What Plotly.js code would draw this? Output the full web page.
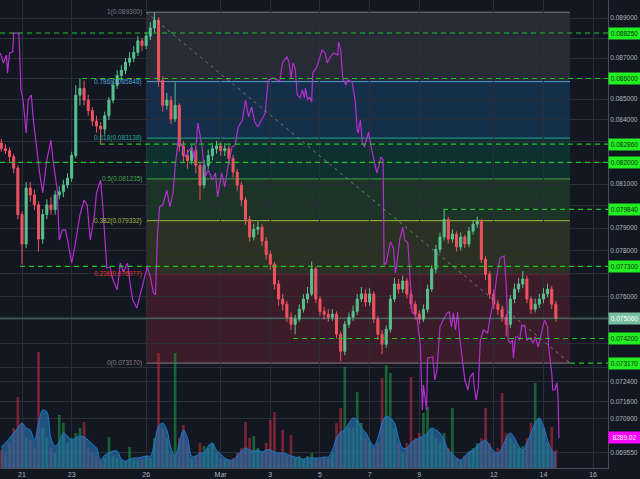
<!DOCTYPE html>
<html><head><meta charset="utf-8">
<script src="https://cdn.plot.ly/plotly-3.0.1.min.js"></script>
<style>html,body{margin:0;padding:0;background:#131722;}#chart{width:640px;height:479px;}</style>
</head><body><div id="chart"></div>
<script>
// ---- candle data (4h, ETH/BTC-like) ----
const candleStartUTC = Date.UTC(2018,1,20,4); // Feb 20 2018 04:00
const candleStepHours = 4;
const open = [
.08291,.08264,.08255,.08227,.08173,.07961,.07829,.08082,.08050,.08005,
.07851,.07961,.08005,.07983,.08050,.08064,.08095,.08127,.08232,.08519,
.08552,.08495,.08445,.08395,.08371,.08357,.08420,.08495,.08567,.08615,
.08640,.08680,.08700,.08729,.08786,.08762,.08810,.08850,.08890,.08590,
.08470,.08495,.08405,.08470,.08277,.08232,.08209,.08255,.08186,.08095,
.08186,.08232,.08264,.08277,.08255,.08264,.08218,.08155,.08095,.08027,
.07939,.07860,.07895,.07904,.07842,.07783,.07739,.07653,.07588,.07566,
.07510,.07480,.07502,.07544,.07588,.07610,.07718,.07588,.07535,.07523,
.07510,.07523,.07438,.07366,.07480,.07510,.07535,.07588,.07610,.07575,
.07610,.07502,.07438,.07396,.07459,.07588,.07653,.07631,.07666,.07610,
.07566,.07523,.07502,.07544,.07631,.07718,.07805,.07860,.07939,.07851,
.07873,.07816,.07860,.07829,.07886,.07917,.07930,.07761,.07696,.07610,
.07566,.07544,.07510,.07480,.07588,.07631,.07653,.07675,.07588,.07544,
.07566,.07588,.07610,.07631,.07566];
const high = [
.08310,.08285,.08270,.08240,.08185,.07975,.08109,.08110,.08075,.08020,
.07985,.08030,.08040,.08070,.08090,.08120,.08150,.08250,.08567,.08600,
.08590,.08520,.08460,.08420,.08390,.08440,.08510,.08590,.08640,.08665,
.08700,.08730,.08760,.08810,.08800,.08830,.08880,.08930,.08905,.08610,
.08530,.08515,.08581,.08480,.08300,.08260,.08280,.08270,.08200,.08210,
.08260,.08290,.08300,.08295,.08290,.08280,.08235,.08170,.08110,.08040,
.07955,.07920,.07930,.07920,.07860,.07800,.07750,.07670,.07610,.07580,
.07530,.07520,.07565,.07610,.07640,.07752,.07730,.07600,.07555,.07545,
.07545,.07535,.07450,.07495,.07530,.07560,.07610,.07640,.07630,.07635,
.07620,.07515,.07455,.07475,.07605,.07680,.07675,.07690,.07680,.07625,
.07580,.07540,.07565,.07650,.07735,.07825,.07880,.07983,.07950,.07895,
.07885,.07880,.07870,.07905,.07935,.07952,.07940,.07775,.07710,.07630,
.07585,.07560,.07525,.07605,.07655,.07680,.07709,.07690,.07600,.07590,
.07610,.07635,.07655,.07645,.07580];
const low = [
.08250,.08240,.08205,.08150,.07940,.07739,.07810,.08020,.07980,.07796,
.07830,.07940,.07960,.07960,.08030,.08040,.08080,.08110,.08220,.08470,
.08470,.08420,.08370,.08340,.08286,.08330,.08400,.08480,.08550,.08590,
.08620,.08660,.08680,.08710,.08735,.08745,.08790,.08830,.08560,.08440,
.08450,.08380,.08390,.08250,.08200,.08170,.08190,.08150,.08027,.08080,
.08170,.08210,.08240,.08230,.08230,.08190,.08130,.08070,.08000,.07915,
.07840,.07845,.07870,.07820,.07760,.07715,.07630,.07560,.07540,.07490,
.07455,.07438,.07490,.07530,.07570,.07600,.07570,.07515,.07500,.07490,
.07495,.07420,.07325,.07350,.07465,.07495,.07520,.07575,.07555,.07560,
.07485,.07415,.07354,.07380,.07445,.07575,.07610,.07615,.07590,.07545,
.07500,.07480,.07490,.07530,.07620,.07700,.07790,.07845,.07830,.07835,
.07795,.07800,.07810,.07815,.07870,.07900,.07745,.07670,.07590,.07545,
.07520,.07490,.07430,.07465,.07570,.07615,.07635,.07570,.07525,.07530,
.07550,.07570,.07595,.07545,.07490];
const close = [
.08264,.08255,.08227,.08173,.07961,.07829,.08082,.08050,.08005,.07851,
.07961,.08005,.07983,.08050,.08064,.08095,.08127,.08232,.08519,.08552,
.08495,.08445,.08395,.08371,.08357,.08420,.08495,.08567,.08615,.08640,
.08680,.08700,.08729,.08786,.08762,.08810,.08850,.08890,.08590,.08470,
.08495,.08405,.08470,.08277,.08232,.08209,.08255,.08186,.08095,.08186,
.08232,.08264,.08277,.08255,.08264,.08218,.08155,.08095,.08027,.07939,
.07860,.07895,.07904,.07842,.07783,.07739,.07653,.07588,.07566,.07510,
.07480,.07502,.07544,.07588,.07610,.07718,.07588,.07535,.07523,.07510,
.07523,.07438,.07366,.07480,.07510,.07535,.07588,.07610,.07575,.07610,
.07502,.07438,.07396,.07459,.07588,.07653,.07631,.07666,.07610,.07566,
.07523,.07502,.07544,.07631,.07718,.07805,.07860,.07939,.07851,.07873,
.07816,.07860,.07829,.07886,.07917,.07930,.07761,.07696,.07610,.07566,
.07544,.07510,.07480,.07588,.07631,.07653,.07675,.07588,.07544,.07566,
.07588,.07610,.07631,.07566,.07506];
const volume = [
360,300,500,800,1420,900,600,560,400,2320,
800,600,400,300,1060,900,500,600,700,800,
920,400,300,240,160,200,620,240,200,160,
120,420,160,160,200,240,200,600,2300,800,
600,300,2300,600,860,500,200,240,500,440,
400,500,300,200,160,160,200,300,400,920,
600,640,400,300,500,960,1120,300,760,240,
660,200,240,160,240,300,200,160,200,200,
300,900,1200,2020,800,800,1520,900,600,500,
400,500,1800,2060,1900,800,500,300,500,1820,
600,700,1100,1220,800,600,500,700,400,1200,
200,160,240,300,400,500,600,1200,500,300,
400,1500,700,600,500,400,440,600,900,1700,
1000,800,500,820,360];
const volumeAvg = [
420,500,600,700,800,900,800,760,560,900,
1160,1120,600,440,520,700,640,560,600,640,
620,560,480,400,160,260,300,340,340,180,
140,180,200,200,220,240,240,500,840,900,
760,400,240,500,760,600,240,240,300,300,
440,500,360,280,200,160,160,240,340,400,
360,340,360,320,360,360,320,300,300,280,
240,220,200,180,200,200,200,200,220,220,
360,600,720,760,900,1000,960,800,720,560,
440,600,900,1040,1000,900,600,400,400,500,
560,600,640,700,800,760,700,560,360,280,
200,160,240,320,360,440,520,560,440,340,
300,400,600,700,600,440,360,500,700,900,
1000,840,560,360,280];

// ---- BTC/USD comparison line (hours after Feb 20 2018 00:00) ----
const btcStartUTC = Date.UTC(2018,1,20);
const btcHours = [3,6,9,10,11,12,15,16,21,23,25,28,30,33,35,39,41,44,48,52,54,58,60,63,66,68,72,75,80,84,87,90,94,96,100,102,106,109,112,116,119,122,126,128,131,135,138,141,145,148,151,153,155,157,160,164,167,170,172,175,179,182,184,188,191,194,198,201,204,208,211,213,217,220,223,227,230,233,237,240,243,246,249,252,256,259,262,267,271,273,276,280,282,284,286,288,290,293,295,297,298,300,302,304,305,309,311,314,317,319,322,325,329,330,332,334,337,339,343,346,348,349,351,353,355,357,359,362,364,367,368,371,373,374,376,380,383,385,386,389,392,394,397,399,401,404,406,409,411,412,414,415,416,421,423,425,428,431,435,437,439,441,443,445,447,450,452,455,457,460,461,463,465,467,470,474,476,480,483,486,490,492,494,496,498,499,501,503,505,507,510,512,515,518,520,523,525,527,529,532,533,536,537,539,541,542,543];
const btcUsd = [11492,11409,11475,11326,11409,11492,11500,11658,11658,11184,11101,10826,11101,11143,10935,10602,10494,10327,10602,10768,10602,10352,9936,10019,10019,9936,9745,9878,10144,10269,10227,9936,10144,10327,10435,10227,9703,9712,9603,9520,9745,9670,9745,9603,9437,9370,9479,9562,9712,9629,9495,9479,9994,10211,10227,10352,10211,10327,10544,10768,10710,10627,10660,10710,10602,10910,10710,10460,10519,10435,10494,10294,10494,10377,10544,10710,10727,10876,10935,11101,10960,11043,10918,10876,10951,10993,11267,11284,11267,11251,11417,11459,11417,11284,11409,11367,11143,11118,11184,11118,11201,11101,11126,11084,11326,11376,11434,11517,11492,11409,11459,11492,11475,11584,11517,11284,11226,11267,11251,11101,10851,10826,10935,10743,10710,10785,10835,10685,10602,10494,10519,10627,10602,9728,9745,9920,9870,9662,9712,9936,10044,9936,9911,9578,9337,9312,9271,9063,8522,8730,8580,8522,8954,8963,8771,8855,9212,9271,9329,9337,9212,9329,9187,9337,9129,8880,8771,8688,8796,8830,8713,8605,8713,9104,9187,9162,9271,9437,9645,9786,9803,9562,9104,9079,9104,8954,9129,9129,9104,9229,9212,9104,9121,9079,9129,9046,9129,9187,9271,9212,9046,8830,8688,8688,8747,8647,8289.02];

// ---- fib retracement ----
const fibLevels = [1, 0.786, 0.618, 0.5, 0.382, 0.236, 0];
const fibPrices = [0.0893, 0.085848, 0.083138, 0.081235, 0.079332, 0.076977, 0.07317];
const fibLineColors = ['#787b86','#4f9fd8','#26a69a','#43a047','#a4b83a','#e53935','#8a7f86'];
const fibFillColors = ['rgba(120,123,134,0.2)','rgba(33,130,220,0.22)','rgba(0,150,110,0.20)','rgba(60,160,60,0.22)','rgba(140,160,40,0.20)','rgba(220,50,70,0.20)'];
const fibStart = '2018-02-26 00:00';
const fibEnd = '2018-03-15 01:40';

// ---- horizontal support/resistance levels ----
const levelPrices = [0.08825, 0.086, 0.08286, 0.082, 0.07984, 0.0773, 0.0742, 0.07317];
const levelStarts = ['2018-02-20 02:44','2018-02-23 10:00','2018-02-24 03:20','2018-02-20 02:44','2018-03-09 23:00','2018-02-20 22:00','2018-03-03 22:00','2018-03-15 01:40'];
const lastPrice = 0.07506;
const lastBtc = 8289.02;

// ---- axes ticks ----
const xTickVals = ['2018-02-21','2018-02-23','2018-02-26','2018-03-01','2018-03-03','2018-03-05','2018-03-07','2018-03-09','2018-03-12','2018-03-14','2018-03-16'];
const xTickText = ['21','23','26','Mar','3','5','7','9','12','14','16'];
const yTickVals = [0.06955,0.0709,0.0716,0.0724,0.073,0.074,0.075,0.076,0.077,0.078,0.079,0.080,0.081,0.082,0.083,0.084,0.085,0.086,0.087,0.088,0.089];
// tick labels fully covered by the price boxes are left blank
const yTickText = ['0.069550','0.070900','0.071600','0.072400','','','','0.076000','','0.078000','0.079000','','0.081000','','','0.084000','0.085000','','0.087000','','0.089000'];

const xRange = ['2018-02-20 02:44','2018-03-16 14:23'];
const FONT = 'Liberation Sans, Arial, sans-serif';

function fmt(ms){ return new Date(ms).toISOString().slice(0,16).replace('T',' '); }
const times = open.map((_, i) => fmt(candleStartUTC + i*candleStepHours*3600e3));
const btcTimes = btcHours.map(h => fmt(btcStartUTC + h*3600e3));
const volColors = open.map((o,i) => close[i] >= o ? 'rgba(30,160,70,0.55)' : 'rgba(200,45,60,0.55)');

const traces = [
  {type:'candlestick', x:times, open:open, high:high, low:low, close:close,
   increasing:{line:{color:'#58c08e',width:1}, fillcolor:'#58c08e'},
   decreasing:{line:{color:'#ef5360',width:1}, fillcolor:'#ef5360'},
   whiskerwidth:0, hoverinfo:'skip', xaxis:'x', yaxis:'y'},
  {type:'bar', x:times, y:volume, marker:{color:volColors, line:{width:0}}, width:2.6*3600e3,
   xaxis:'x', yaxis:'y2', hoverinfo:'skip'},
  {type:'scatter', mode:'lines', x:times, y:volumeAvg, line:{shape:'spline', color:'rgba(30,120,210,0.95)', width:1},
   fill:'tozeroy', fillcolor:'rgba(40,115,175,0.65)', xaxis:'x', yaxis:'y2', hoverinfo:'skip'},
  {type:'scatter', mode:'lines', x:btcTimes, y:btcUsd, line:{color:'#b230cc', width:1.2},
   xaxis:'x', yaxis:'y3', hoverinfo:'skip'}
];

const shapes = [];
for (let k = 0; k < fibPrices.length - 1; k++) {
  shapes.push({type:'rect', xref:'x', yref:'y', x0:fibStart, x1:fibEnd, y0:fibPrices[k+1], y1:fibPrices[k],
    fillcolor:fibFillColors[k], line:{width:0}, layer:'below'});
}
fibPrices.forEach((p,k) => shapes.push({type:'line', xref:'x', yref:'y', x0:fibStart, x1:fibEnd, y0:p, y1:p,
  line:{color:fibLineColors[k], width:1}, layer:'below'}));
shapes.push({type:'line', xref:'x', yref:'y', x0:fibStart, x1:fibEnd, y0:fibPrices[0], y1:fibPrices[fibPrices.length-1],
  line:{color:'rgba(170,170,180,0.6)', width:1, dash:'3px,4px'}});
levelPrices.forEach((p,k) => shapes.push({type:'line', xref:'x', yref:'y', x0:levelStarts[k], x1:xRange[1], y0:p, y1:p,
  line:{color:'#21c421', width:1.2, dash:'5px,4px'}}));
shapes.push({type:'line', xref:'x', yref:'y', x0:xRange[0], x1:xRange[1], y0:lastPrice, y1:lastPrice,
  line:{color:'rgba(120,190,160,0.6)', width:1}});

const annotations = [];
fibPrices.forEach((p,k) => annotations.push({xref:'x', yref:'y', x:fibStart, y:Math.log10(p), xanchor:'right', yanchor:'middle',
  xshift:-2, text:String(fibLevels[k]) + '(' + p.toFixed(6) + ')', showarrow:false,
  font:{family:FONT, size:6.5, color:fibLineColors[k]}}));
levelPrices.forEach(p => annotations.push({xref:'paper', yref:'y', x:1, y:Math.log10(p), xanchor:'left', yanchor:'middle',
  text:p.toFixed(6), showarrow:false, bgcolor:'#22ee22', borderpad:1, width:29, height:9,
  font:{family:FONT, size:6.5, color:'#0c330c'}}));
annotations.push({xref:'paper', yref:'y', x:1, y:Math.log10(lastPrice), xanchor:'left', yanchor:'middle',
  text:lastPrice.toFixed(6), showarrow:false, bgcolor:'#78bfa2', borderpad:1, width:29, height:9,
  font:{family:FONT, size:6.5, color:'#ffffff'}});
annotations.push({xref:'paper', yref:'y3', x:1, y:lastBtc, xanchor:'left', yanchor:'middle',
  text:lastBtc.toFixed(2), showarrow:false, bgcolor:'#ff00ff', borderpad:1, width:29, height:9,
  font:{family:FONT, size:6.5, color:'#ffffff'}});

const layout = {
  width:640, height:479,
  margin:{l:0, r:32, t:0, b:11, pad:0},
  paper_bgcolor:'#131722', plot_bgcolor:'#131722',
  showlegend:false, hovermode:false, dragmode:false,
  xaxis:{type:'date', range:xRange, tickvals:xTickVals, ticktext:xTickText, showgrid:true, gridcolor:'#2a2e39',
    tickfont:{family:FONT, size:7, color:'#b2b5be'}, ticks:'', showline:true, linecolor:'#4a4e5a', linewidth:1,
    rangeslider:{visible:false}, zeroline:false, fixedrange:true},
  yaxis:{type:'log', side:'right', range:[Math.log10(0.06894), Math.log10(0.08992)], tickvals:yTickVals,
    ticktext:yTickText, showgrid:true, gridcolor:'#2a2e39',
    tickfont:{family:FONT, size:6.5, color:'#b2b5be'}, ticks:'',
    showline:true, linecolor:'#4a4e5a', linewidth:1, zeroline:false, fixedrange:true},
  yaxis2:{overlaying:'y', range:[0,9360], visible:false, fixedrange:true},
  yaxis3:{overlaying:'y', range:[8039,11933], visible:false, fixedrange:true},
  shapes:shapes, annotations:annotations
};
Plotly.newPlot('chart', traces, layout, {staticPlot:true, displayModeBar:false});
</script>
</body></html>
